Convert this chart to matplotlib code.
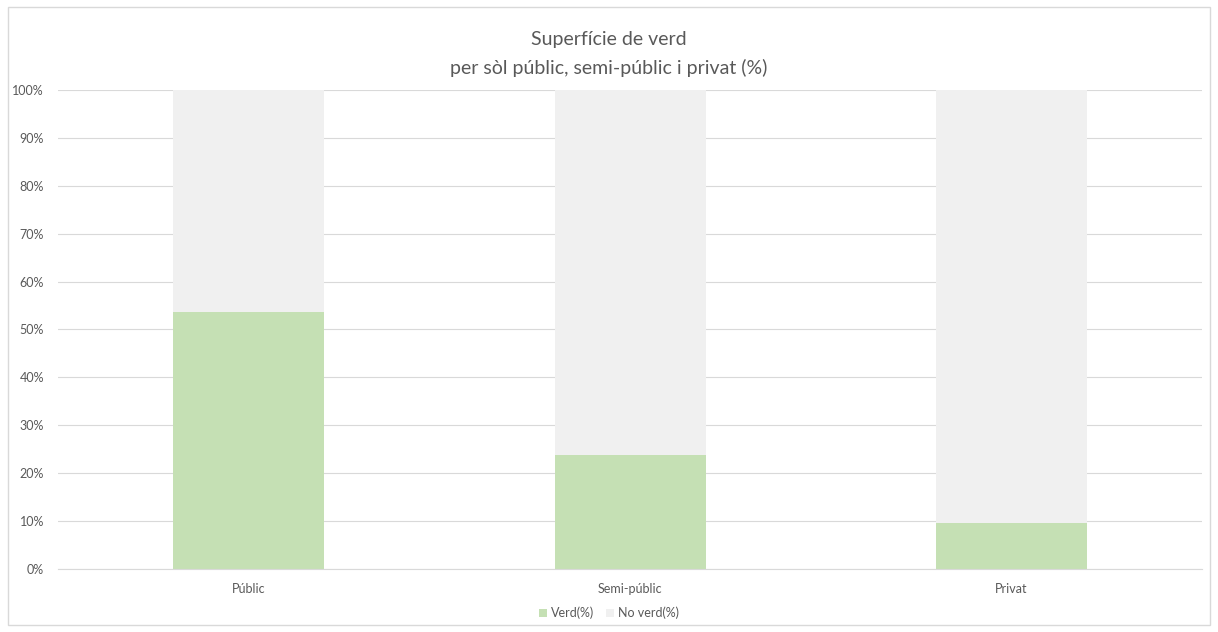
import matplotlib
matplotlib.use('Agg')
import matplotlib.pyplot as plt
from matplotlib.patches import Rectangle
from matplotlib.ticker import PercentFormatter

plt.rcParams['font.family'] = ['Lato', 'DejaVu Sans']

# Data
categories = ['Públic', 'Semi-públic', 'Privat']
verd = [53.6, 23.8, 9.5]
no_verd = [100 - v for v in verd]

green = '#C5E0B4'
grey = '#F0F0F0'
text_col = '#595959'

fig = plt.figure(figsize=(12.18, 6.32), dpi=100)
ax = fig.add_axes([0.0476, 0.0997, 0.9393, 0.7579])

# Outer chart border
fig.patches.append(Rectangle((8 / 1218, 7 / 632), 1202 / 1218, 618 / 632,
                             transform=fig.transFigure, fill=False,
                             edgecolor='#D9D9D9', linewidth=1))

x = range(len(categories))
ax.bar(x, verd, width=0.396, color=green, label='Verd(%)', zorder=2)
ax.bar(x, no_verd, bottom=verd, width=0.396, color=grey, label='No verd(%)', zorder=2)

ax.set_xlim(-0.5, len(categories) - 0.5)
ax.set_ylim(0, 100)
ax.set_yticks(range(0, 101, 10))
ax.yaxis.set_major_formatter(PercentFormatter(decimals=0))
ax.set_xticks(list(x))
ax.set_xticklabels(categories)

ax.grid(axis='y', color='#D9D9D9', linewidth=0.8, zorder=0)
for s in ['top', 'right', 'left']:
    ax.spines[s].set_visible(False)
ax.spines['bottom'].set_color('#D9D9D9')
ax.tick_params(axis='both', length=0, labelsize=9, colors=text_col)
ax.tick_params(axis='x', pad=10)
ax.tick_params(axis='y', pad=10)

fig.text(0.5, 1 - 39 / 632, 'Superfície de verd', ha='center', va='center',
         fontsize=14, color=text_col)
fig.text(0.5, 1 - 68 / 632, 'per sòl públic, semi-públic i privat (%)', ha='center',
         va='center', fontsize=14, color=text_col)

fig.legend(loc='center', bbox_to_anchor=(0.5, 1 - 613 / 632), ncol=2, frameon=False,
           fontsize=9, labelcolor=text_col, handlelength=0.6, handleheight=0.6,
           handletextpad=0.3, columnspacing=1.0)

fig.savefig('out.png', dpi=100)
